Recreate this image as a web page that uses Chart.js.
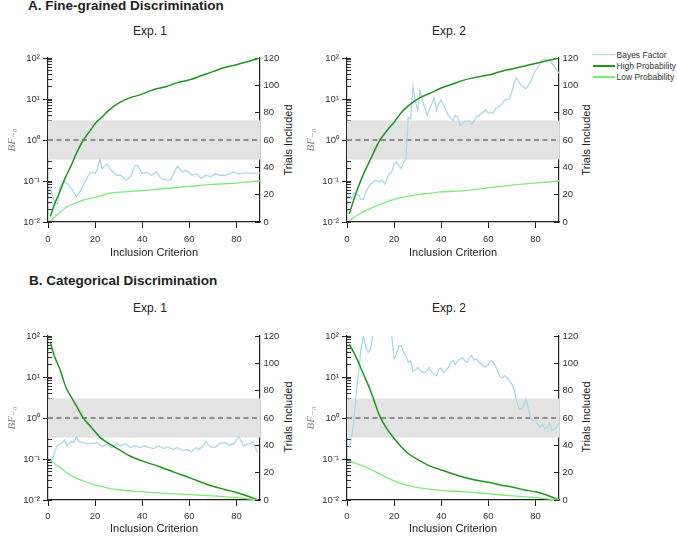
<!DOCTYPE html>
<html>
<head>
<meta charset="utf-8">
<script src="https://cdn.jsdelivr.net/npm/chart.js@4.4.1/dist/chart.umd.min.js"></script>
<style>
  body { margin: 0; background: #fff; width: 677px; height: 539px; position: relative; overflow: hidden;
         font-family: 'Liberation Sans', Arial, sans-serif; color: #222; }
  canvas { position: absolute; }
  .t { position: absolute; white-space: nowrap; line-height: 1; }
  .c { transform: translate(-50%, -50%); }
  .h { font-weight: bold; font-size: 13.5px; transform: translateY(-50%); }
  .exp { font-size: 12px; }
  .rt { font-size: 11px; transform: translate(-50%, -50%) rotate(-90deg); }
  .leg { position: absolute; font-size: 8.5px; color: #333; white-space: nowrap; width: 90px; }
  .leg div { height: 11.3px; display: flex; align-items: center; }
  .leg span.sw { display: inline-block; width: 22px; height: 1.5px; margin-right: 1.5px; flex: none; }
</style>
</head>
<body>

<div class="t h" style="left:28px; top:6px">A. Fine-grained Discrimination</div>
<div class="t c exp" style="left:150px; top:31px">Exp. 1</div>
<div class="t c exp" style="left:449px; top:31px">Exp. 2</div>
<div class="t h" style="left:29px; top:281px">B. Categorical Discrimination</div>
<div class="t c exp" style="left:150px; top:308px">Exp. 1</div>
<div class="t c exp" style="left:449px; top:308px">Exp. 2</div>

<div class="t rt" style="left:288px; top:140px">Trials Included</div>
<div class="t rt" style="left:586px; top:140px">Trials Included</div>
<div class="t rt" style="left:288px; top:417px">Trials Included</div>
<div class="t rt" style="left:586px; top:417px">Trials Included</div>

<div class="leg" style="left:593px; top:49px">
  <div><span class="sw" style="background:#acd8e6"></span>Bayes Factor</div>
  <div><span class="sw" style="background:#1e961e"></span>High Probability</div>
  <div><span class="sw" style="background:#78ee78"></span>Low Probability</div>
</div>

<canvas id="a1" width="290" height="219" style="left:0px; top:43px"></canvas>
<canvas id="a2" width="290" height="219" style="left:299px; top:43px"></canvas>
<canvas id="b1" width="290" height="217" style="left:0px; top:321px"></canvas>
<canvas id="b2" width="290" height="217" style="left:299px; top:321px"></canvas>

<script>
// reference lines
const BAND_LO = 1 / 3;
const BAND_HI = 3;
const BF_NULL = 1;

// axes
const X_MAX = 90;
const BF_MIN = 0.01, BF_MAX = 100;
const TRIALS_MAX = 120;
const bfExps = [-2, -1, 0, 1, 2];
const bfLabels = ['10⁻²', '10⁻¹', '10⁰', '10¹', '10²'];

const colBF = '#acd8e6';
const colHigh = '#1e961e';
const colLow = '#78ee78';

// A. Fine-grained, Exp. 1
const fineE1BfX = [1,2,3,4,5,6,7,9,11,12,14,16,18,20,21,22,23,25,27,29,31,33,35,37,38,40,42,44,46,48,50,52,54,55,57,59,61,63,65,67,69,71,73,75,77,79,81,83,85,88,90];
const fineE1Bf = [0.071,0.041,0.028,0.028,0.071,0.089,0.095,0.078,0.053,0.041,0.059,0.105,0.166,0.15,0.2,0.35,0.2,0.26,0.18,0.138,0.138,0.105,0.126,0.24,0.24,0.15,0.166,0.138,0.166,0.115,0.105,0.105,0.18,0.23,0.166,0.18,0.138,0.15,0.115,0.138,0.126,0.15,0.138,0.138,0.15,0.166,0.15,0.155,0.155,0.155,0.155];
const fineE1HighX = [1,3,5,7,10,12,15,18,20,23,26,30,35,39,45,50,55,60,65,70,75,80,85,90];
const fineE1High = [4,14,22,31,42,50,60,67,72,77,82,87,91,93,97,99,102,104,107,110,113,115,117.5,120];
const fineE1LowX = [1,3,5,8,12,16,20,26,32,40,50,60,70,80,90];
const fineE1Low = [1,4,7,11,14,16.5,18,21,22,23,24.5,26,27.5,28.5,30];

// A. Fine-grained, Exp. 2
const fineE2BfX = [1,2,3,5,6,7,8,10,12,14,15,16,17,18,19,20,21,22,23,24,25,26,27,28,29,30,31,32,34,36,37,38,39,40,41,43,45,46,47,48,49,50,52,53,55,57,59,60,61,62,63,64,66,67,69,70,71,72,73,74,76,78,79,81,83,84,85,86,87,88,89,90];
const fineE2Bf = [0.045,0.037,0.051,0.045,0.035,0.037,0.054,0.085,0.105,0.095,0.105,0.083,0.115,0.15,0.166,0.26,0.29,0.24,0.2,0.29,0.33,3.6,3.3,20,9.3,5.3,16,9.3,4.0,7.7,11,5.3,7.7,9.5,7.0,4.0,3.0,4.0,3.6,2.3,2.5,2.9,2.9,2.4,3.6,4.4,5.5,4.4,4.8,4.4,5.8,6.3,7.7,9.5,10,15,26,32,26,21,18,26,38,60,88,96,88,91,73,63,50,43];
const fineE2HighX = [1,4,7,10,14,17,20,23,26,31,35,40,45,50,55,60,65,70,75,80,85,90];
const fineE2High = [6,22,35,46,60,67,73,80,85,91,94,98,101,104,106,107.5,110,112,114,116,118,120];
const fineE2LowX = [1,5,10,15,20,25,30,35,40,50,60,70,80,90];
const fineE2Low = [1,5.5,10,13.5,16.5,18.5,20,21,22,23,25,27,28.5,30];

// B. Categorical, Exp. 1
const catE1BfX = [1,2,3,4,6,7,8,10,11,12,13,15,17,19,21,23,25,27,29,31,33,35,37,39,41,43,45,47,49,51,53,55,57,59,61,63,64,66,67,69,71,73,75,77,79,81,83,85,86,87,88,89];
const catE1Bf = [0.089,0.1,0.16,0.21,0.25,0.29,0.21,0.27,0.25,0.35,0.27,0.25,0.23,0.24,0.25,0.2,0.23,0.19,0.24,0.21,0.24,0.19,0.21,0.19,0.21,0.19,0.18,0.21,0.18,0.2,0.17,0.19,0.16,0.17,0.15,0.19,0.17,0.21,0.27,0.2,0.19,0.24,0.25,0.22,0.24,0.36,0.21,0.24,0.23,0.27,0.19,0.14];
const catE1HighX = [1,3,5,6.5,8,10,12,15,18,20,22,26,30,35,40,48,54,60,65,70,75,80,85,89];
const catE1High = [115,104,96,88,81,75,69,60,54,50,46,41,37,32,28.6,24,20,16.4,13,10,7.7,5.5,2.8,0];
const catE1LowX = [1,5,8,12,15,20,26,30,36,48,60,70,80,89];
const catE1Low = [28.6,24,20,16,14,11,8.5,7.5,6.5,5,4,3,1.7,0];

// B. Categorical, Exp. 2 (BF runs above the axis top between 11 and 19)
const catE2BfX = [1,2,3,4,5,6,7,8,9,10,11,12,14,16,18,19,20,21,22,23,24,25,26,27,28,29,30,31,32,33,34,35,36,37,38,39,40,41,42,43,44,45,46,47,48,49,50,51,52,53,54,55,56,57,58,59,60,61,62,63,64,65,66,67,68,69,70,71,72,73,74,75,76,77,78,79,80,81,82,83,84,85,86,87,88,89,90];
const catE2Bf = [0.19,0.33,1.0,4.6,14,53,100,53,40,48,100,250,500,400,250,100,27.5,36,58,58,40,33,23,25,14,14.8,17,14.8,13,13,14,17,13,11.8,10.7,15.5,16.5,13,14.8,17,23,25,20,25,27.5,30,25,23,30,33,26,27.5,23,21,17.8,17.8,20,25,24,18.6,14,10,9.7,10.7,9.7,8.1,6.7,5.0,2.6,1.66,1.66,2.0,2.9,1.66,1.0,0.85,0.85,0.71,0.6,0.71,0.54,0.6,0.74,0.49,0.54,0.59,0.74];
const catE2HighX = [1,4,7,10,14,17,20,23,26,31,35,40,45,50,55,60,65,70,75,80,85,90];
const catE2High = [114,104,92,80,61,52,45,39,34,28.6,25,22,19,16.5,14.5,13,11,9.5,7.5,6,3.5,0];
const catE2LowX = [1,5,10,15,20,25,30,35,40,50,60,70,80,85,90];
const catE2Low = [28.6,26,22.5,18,14,11,9,8,7,6,4.6,3,1.7,0.8,0];

Chart.defaults.font.family = "'Liberation Sans', Arial, sans-serif";
Chart.defaults.color = '#333';

const pts = (xs, ys) => xs.map((x, i) => ({ x: x, y: ys[i] }));

// tick positions of the log axis: 1..9 x 10^e
const logTicks = [];
for (let e = bfExps[0]; e < bfExps[bfExps.length - 1]; e++) {
  for (let m = 1; m <= 9; m++) logTicks.push(Number((m * Math.pow(10, e)).toPrecision(6)));
}
logTicks.push(BF_MAX);

function majorIndex(v) {
  const l = Math.log10(v);
  if (Math.abs(l - Math.round(l)) > 1e-6) return -1;
  return bfExps.indexOf(Math.round(l));
}

function makePanel(id, bfX, bf, hiX, hi, loX, lo, row) {
  const xAxisH = row === 'A' ? 40 : 38;
  const labelPad = row === 'A' ? 5.3 : 4.3;
  const ctx = document.getElementById(id).getContext('2d');
  return new Chart(ctx, {
    type: 'line',
    data: {
      datasets: [
        { label: 'band', data: pts([0, X_MAX], [BAND_HI, BAND_HI]), yAxisID: 'y',
          borderWidth: 0, pointRadius: 0, fill: { value: BAND_LO }, backgroundColor: '#e3e3e3', order: 10 },
        { label: 'null', data: pts([0, X_MAX], [BF_NULL, BF_NULL]), yAxisID: 'y',
          borderColor: '#3a3a3a', borderWidth: 1.2, borderDash: [5, 3.5], pointRadius: 0, fill: false, order: 9 },
        { label: 'Bayes Factor', data: pts(bfX, bf), yAxisID: 'y',
          borderColor: colBF, borderWidth: 1.3, pointRadius: 0, fill: false, order: 3 },
        { label: 'High Probability', data: pts(hiX, hi), yAxisID: 'y2',
          borderColor: colHigh, borderWidth: 1.5, pointRadius: 0, fill: false, cubicInterpolationMode: 'monotone', order: 2 },
        { label: 'Low Probability', data: pts(loX, lo), yAxisID: 'y2',
          borderColor: colLow, borderWidth: 1.3, pointRadius: 0, fill: false, cubicInterpolationMode: 'monotone', order: 1 }
      ]
    },
    options: {
      responsive: false,
      animation: false,
      layout: { padding: { top: 15, left: 0, right: 0, bottom: 0 } },
      plugins: { legend: { display: false }, tooltip: { enabled: false } },
      scales: {
        x: {
          type: 'linear', min: 0, max: X_MAX,
          ticks: { stepSize: 20, includeBounds: false, maxRotation: 0, font: { size: 9.5 }, padding: labelPad, color: '#333' },
          grid: { drawOnChartArea: false, tickLength: 6, color: '#222' },
          border: { color: '#222', width: 1.2 },
          title: { display: true, text: 'Inclusion Criterion', font: { size: 11 }, color: '#222', padding: { top: 0, bottom: 2 } },
          afterFit: s => { s.height = xAxisH; }
        },
        y: {
          type: 'logarithmic', position: 'left', min: BF_MIN, max: BF_MAX, weight: 1,
          afterBuildTicks: s => { s.ticks = logTicks.map(v => ({ value: v })); },
          ticks: {
            autoSkip: false, font: { size: 9.5 }, padding: 3, color: '#333',
            callback: v => { const i = majorIndex(v); return i >= 0 ? bfLabels[i] : ''; }
          },
          grid: { drawOnChartArea: false, tickLength: 5,
                  tickColor: c => (c.tick && majorIndex(c.tick.value) >= 0) ? '#222' : 'rgba(0,0,0,0)' },
          border: { color: '#222', width: 1.2 },
          title: { display: true, text: 'BF₋₀', color: '#888', padding: { top: 6, bottom: 0 },
                   font: { family: "'Liberation Serif', 'DejaVu Serif', serif", style: 'italic', size: 11 } },
          afterFit: s => { s.width = 48; }
        },
        yMinor: {
          type: 'logarithmic', position: 'left', min: BF_MIN, max: BF_MAX, weight: 0,
          afterBuildTicks: s => { s.ticks = logTicks.map(v => ({ value: v })); },
          ticks: { display: false },
          grid: { drawOnChartArea: false, tickLength: -4, tickColor: '#333' },
          border: { display: false },
          afterFit: s => { s.width = 0; }
        },
        y2: {
          type: 'linear', position: 'right', min: 0, max: TRIALS_MAX,
          ticks: { stepSize: 20, font: { size: 9.5 }, padding: 8.5, color: '#333' },
          grid: { drawOnChartArea: false, tickLength: -5, tickColor: '#222' },
          border: { color: '#222', width: 1.2 },
          afterFit: s => { s.width = 30; }
        }
      }
    }
  });
}

makePanel('a1', fineE1BfX, fineE1Bf, fineE1HighX, fineE1High, fineE1LowX, fineE1Low, 'A');
makePanel('a2', fineE2BfX, fineE2Bf, fineE2HighX, fineE2High, fineE2LowX, fineE2Low, 'A');
makePanel('b1', catE1BfX, catE1Bf, catE1HighX, catE1High, catE1LowX, catE1Low, 'B');
makePanel('b2', catE2BfX, catE2Bf, catE2HighX, catE2High, catE2LowX, catE2Low, 'B');
</script>
</body>
</html>
